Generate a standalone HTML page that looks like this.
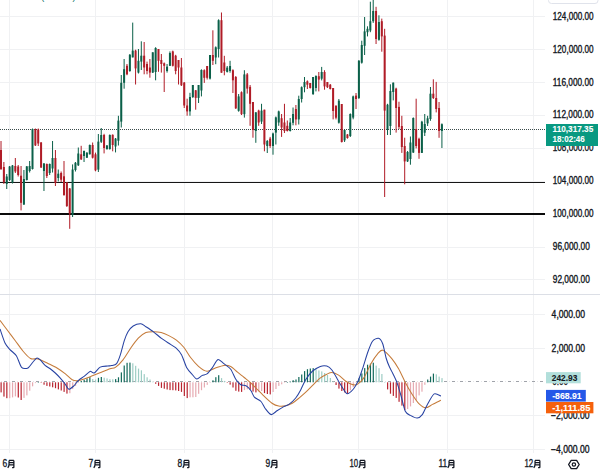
<!DOCTYPE html><html><head><meta charset="utf-8"><style>html,body{margin:0;padding:0;background:#fff;overflow:hidden}svg{display:block}text{font-family:"Liberation Sans",sans-serif}</style></head><body>
<svg width="600" height="472" viewBox="0 0 600 472">
<rect width="600" height="472" fill="#fff"/>
<line x1="9.5" y1="0" x2="9.5" y2="294" stroke="#f0f1f3" stroke-width="1"/>
<line x1="9.5" y1="295" x2="9.5" y2="453" stroke="#f0f1f3" stroke-width="1"/>
<line x1="95.5" y1="0" x2="95.5" y2="294" stroke="#f0f1f3" stroke-width="1"/>
<line x1="95.5" y1="295" x2="95.5" y2="453" stroke="#f0f1f3" stroke-width="1"/>
<line x1="184.5" y1="0" x2="184.5" y2="294" stroke="#f0f1f3" stroke-width="1"/>
<line x1="184.5" y1="295" x2="184.5" y2="453" stroke="#f0f1f3" stroke-width="1"/>
<line x1="272.5" y1="0" x2="272.5" y2="294" stroke="#f0f1f3" stroke-width="1"/>
<line x1="272.5" y1="295" x2="272.5" y2="453" stroke="#f0f1f3" stroke-width="1"/>
<line x1="358.5" y1="0" x2="358.5" y2="294" stroke="#f0f1f3" stroke-width="1"/>
<line x1="358.5" y1="295" x2="358.5" y2="453" stroke="#f0f1f3" stroke-width="1"/>
<line x1="447.5" y1="0" x2="447.5" y2="294" stroke="#f0f1f3" stroke-width="1"/>
<line x1="447.5" y1="295" x2="447.5" y2="453" stroke="#f0f1f3" stroke-width="1"/>
<line x1="533.5" y1="0" x2="533.5" y2="294" stroke="#f0f1f3" stroke-width="1"/>
<line x1="533.5" y1="295" x2="533.5" y2="453" stroke="#f0f1f3" stroke-width="1"/>
<line x1="0" y1="16.5" x2="545" y2="16.5" stroke="#f0f1f3" stroke-width="1"/>
<line x1="0" y1="49.5" x2="545" y2="49.5" stroke="#f0f1f3" stroke-width="1"/>
<line x1="0" y1="82.5" x2="545" y2="82.5" stroke="#f0f1f3" stroke-width="1"/>
<line x1="0" y1="115.5" x2="545" y2="115.5" stroke="#f0f1f3" stroke-width="1"/>
<line x1="0" y1="148.5" x2="545" y2="148.5" stroke="#f0f1f3" stroke-width="1"/>
<line x1="0" y1="181.5" x2="545" y2="181.5" stroke="#f0f1f3" stroke-width="1"/>
<line x1="0" y1="214.5" x2="545" y2="214.5" stroke="#f0f1f3" stroke-width="1"/>
<line x1="0" y1="247.5" x2="545" y2="247.5" stroke="#f0f1f3" stroke-width="1"/>
<line x1="0" y1="279.5" x2="545" y2="279.5" stroke="#f0f1f3" stroke-width="1"/>
<line x1="0" y1="314.5" x2="545" y2="314.5" stroke="#f0f1f3" stroke-width="1"/>
<line x1="0" y1="348.5" x2="545" y2="348.5" stroke="#f0f1f3" stroke-width="1"/>
<line x1="0" y1="415.5" x2="545" y2="415.5" stroke="#f0f1f3" stroke-width="1"/>
<line x1="0" y1="449.5" x2="545" y2="449.5" stroke="#f0f1f3" stroke-width="1"/>
<line x1="0" y1="294.5" x2="600" y2="294.5" stroke="#dcdfe6" stroke-width="1"/>
<rect x="548.5" y="-4" width="49.5" height="7.5" rx="3" fill="#fff" stroke="#e0e3eb" stroke-width="1"/>
<text x="41.2" y="0.2" font-size="9" fill="#00695a">(</text><text x="72.6" y="0.2" font-size="9" fill="#00695a">)</text>
<line x1="0" y1="129.5" x2="545" y2="129.5" stroke="#3a4a4a" stroke-width="1" stroke-dasharray="1 1"/>
<line x1="0" y1="182.5" x2="545" y2="182.5" stroke="#161616" stroke-width="1.1"/>
<line x1="0" y1="214" x2="545" y2="214" stroke="#0a0a0a" stroke-width="2.2"/>
<rect x="0.51" y="141.0" width="1" height="29.0" fill="#b01c27"/>
<rect x="0.01" y="150.0" width="2" height="19.0" fill="#b01c27"/>
<rect x="3.37" y="162.0" width="1" height="22.0" fill="#b01c27"/>
<rect x="2.87" y="167.0" width="2" height="15.0" fill="#b01c27"/>
<rect x="6.24" y="174.0" width="1" height="15.0" fill="#0b6049"/>
<rect x="5.74" y="176.5" width="2" height="7.5" fill="#0b6049"/>
<rect x="9.10" y="166.0" width="1" height="15.0" fill="#0b6049"/>
<rect x="8.60" y="166.5" width="2" height="13.5" fill="#0b6049"/>
<rect x="11.96" y="165.0" width="1" height="18.5" fill="#0b6049"/>
<rect x="11.46" y="165.5" width="2" height="17.0" fill="#0b6049"/>
<rect x="14.83" y="158.0" width="1" height="15.0" fill="#b01c27"/>
<rect x="14.33" y="166.0" width="2" height="5.5" fill="#b01c27"/>
<rect x="17.69" y="165.0" width="1" height="11.5" fill="#b01c27"/>
<rect x="17.19" y="166.5" width="2" height="8.5" fill="#b01c27"/>
<rect x="20.55" y="166.0" width="1" height="44.4" fill="#b01c27"/>
<rect x="20.05" y="175.7" width="2" height="27.1" fill="#b01c27"/>
<rect x="23.41" y="170.0" width="1" height="35.0" fill="#0b6049"/>
<rect x="22.91" y="179.0" width="2" height="25.5" fill="#0b6049"/>
<rect x="26.28" y="166.0" width="1" height="14.5" fill="#0b6049"/>
<rect x="25.78" y="166.4" width="2" height="13.6" fill="#0b6049"/>
<rect x="29.14" y="161.0" width="1" height="11.5" fill="#0b6049"/>
<rect x="28.64" y="166.0" width="2" height="5.0" fill="#0b6049"/>
<rect x="32.00" y="128.5" width="1" height="41.0" fill="#0b6049"/>
<rect x="31.50" y="129.0" width="2" height="40.0" fill="#0b6049"/>
<rect x="34.87" y="128.5" width="1" height="17.5" fill="#b01c27"/>
<rect x="34.37" y="129.0" width="2" height="16.4" fill="#b01c27"/>
<rect x="37.73" y="128.5" width="1" height="17.5" fill="#b01c27"/>
<rect x="37.23" y="129.5" width="2" height="14.0" fill="#b01c27"/>
<rect x="40.59" y="142.0" width="1" height="26.0" fill="#b01c27"/>
<rect x="40.09" y="142.5" width="2" height="25.0" fill="#b01c27"/>
<rect x="43.46" y="163.0" width="1" height="28.0" fill="#0b6049"/>
<rect x="42.96" y="163.5" width="2" height="7.5" fill="#0b6049"/>
<rect x="46.32" y="163.5" width="1" height="14.5" fill="#b01c27"/>
<rect x="45.82" y="164.0" width="2" height="12.0" fill="#b01c27"/>
<rect x="49.18" y="163.5" width="1" height="11.5" fill="#0b6049"/>
<rect x="48.68" y="164.0" width="2" height="9.0" fill="#0b6049"/>
<rect x="52.05" y="141.0" width="1" height="31.5" fill="#0b6049"/>
<rect x="51.55" y="158.0" width="2" height="10.5" fill="#0b6049"/>
<rect x="54.91" y="150.0" width="1" height="36.0" fill="#b01c27"/>
<rect x="54.41" y="158.0" width="2" height="25.0" fill="#b01c27"/>
<rect x="57.77" y="169.5" width="1" height="11.9" fill="#0b6049"/>
<rect x="57.27" y="173.7" width="2" height="4.3" fill="#0b6049"/>
<rect x="60.63" y="171.5" width="1" height="10.5" fill="#b01c27"/>
<rect x="60.13" y="173.0" width="2" height="6.7" fill="#b01c27"/>
<rect x="63.50" y="161.0" width="1" height="34.8" fill="#b01c27"/>
<rect x="63.00" y="176.3" width="2" height="18.7" fill="#b01c27"/>
<rect x="66.36" y="182.0" width="1" height="25.0" fill="#b01c27"/>
<rect x="65.86" y="182.5" width="2" height="23.5" fill="#b01c27"/>
<rect x="69.22" y="188.0" width="1" height="40.8" fill="#b01c27"/>
<rect x="68.72" y="188.5" width="2" height="25.1" fill="#b01c27"/>
<rect x="72.09" y="164.4" width="1" height="52.6" fill="#0b6049"/>
<rect x="71.59" y="169.5" width="2" height="45.5" fill="#0b6049"/>
<rect x="74.95" y="162.0" width="1" height="9.5" fill="#0b6049"/>
<rect x="74.45" y="162.8" width="2" height="7.2" fill="#0b6049"/>
<rect x="77.81" y="147.5" width="1" height="18.5" fill="#0b6049"/>
<rect x="77.31" y="153.5" width="2" height="11.8" fill="#0b6049"/>
<rect x="80.67" y="145.8" width="1" height="14.2" fill="#b01c27"/>
<rect x="80.17" y="154.3" width="2" height="5.1" fill="#b01c27"/>
<rect x="83.54" y="150.5" width="1" height="11.5" fill="#0b6049"/>
<rect x="83.04" y="151.0" width="2" height="5.0" fill="#0b6049"/>
<rect x="86.40" y="152.0" width="1" height="6.0" fill="#0b6049"/>
<rect x="85.90" y="152.8" width="2" height="4.9" fill="#0b6049"/>
<rect x="89.26" y="144.5" width="1" height="10.0" fill="#0b6049"/>
<rect x="88.76" y="145.0" width="2" height="9.3" fill="#0b6049"/>
<rect x="92.13" y="142.5" width="1" height="16.0" fill="#b01c27"/>
<rect x="91.63" y="145.0" width="2" height="12.7" fill="#b01c27"/>
<rect x="94.99" y="152.6" width="1" height="18.7" fill="#b01c27"/>
<rect x="94.49" y="154.3" width="2" height="16.1" fill="#b01c27"/>
<rect x="97.85" y="134.0" width="1" height="38.0" fill="#0b6049"/>
<rect x="97.35" y="141.6" width="2" height="28.0" fill="#0b6049"/>
<rect x="100.72" y="128.0" width="1" height="15.0" fill="#0b6049"/>
<rect x="100.22" y="135.0" width="2" height="6.8" fill="#0b6049"/>
<rect x="103.58" y="133.8" width="1" height="19.6" fill="#b01c27"/>
<rect x="103.08" y="135.0" width="2" height="13.0" fill="#b01c27"/>
<rect x="106.44" y="145.0" width="1" height="4.5" fill="#0b6049"/>
<rect x="105.94" y="145.5" width="2" height="3.7" fill="#0b6049"/>
<rect x="109.30" y="134.4" width="1" height="15.3" fill="#0b6049"/>
<rect x="108.80" y="135.0" width="2" height="14.0" fill="#0b6049"/>
<rect x="112.17" y="134.4" width="1" height="16.9" fill="#b01c27"/>
<rect x="111.67" y="134.8" width="2" height="10.2" fill="#b01c27"/>
<rect x="115.03" y="138.0" width="1" height="14.4" fill="#0b6049"/>
<rect x="114.53" y="138.6" width="2" height="7.9" fill="#0b6049"/>
<rect x="117.89" y="115.8" width="1" height="29.7" fill="#0b6049"/>
<rect x="117.39" y="120.6" width="2" height="20.1" fill="#0b6049"/>
<rect x="120.76" y="75.0" width="1" height="52.5" fill="#0b6049"/>
<rect x="120.26" y="82.8" width="2" height="38.8" fill="#0b6049"/>
<rect x="123.62" y="59.0" width="1" height="29.7" fill="#0b6049"/>
<rect x="123.12" y="69.2" width="2" height="13.6" fill="#0b6049"/>
<rect x="126.48" y="64.0" width="1" height="11.2" fill="#b01c27"/>
<rect x="125.98" y="65.8" width="2" height="8.5" fill="#b01c27"/>
<rect x="129.35" y="54.0" width="1" height="17.8" fill="#0b6049"/>
<rect x="128.85" y="54.8" width="2" height="16.2" fill="#0b6049"/>
<rect x="132.21" y="22.6" width="1" height="34.8" fill="#0b6049"/>
<rect x="131.71" y="50.6" width="2" height="6.8" fill="#0b6049"/>
<rect x="135.07" y="49.7" width="1" height="34.8" fill="#b01c27"/>
<rect x="134.57" y="50.6" width="2" height="17.8" fill="#b01c27"/>
<rect x="137.94" y="49.0" width="1" height="24.5" fill="#0b6049"/>
<rect x="137.44" y="60.8" width="2" height="11.8" fill="#0b6049"/>
<rect x="140.80" y="41.3" width="1" height="28.7" fill="#0b6049"/>
<rect x="140.30" y="55.7" width="2" height="5.9" fill="#0b6049"/>
<rect x="143.66" y="42.0" width="1" height="32.3" fill="#b01c27"/>
<rect x="143.16" y="55.7" width="2" height="11.8" fill="#b01c27"/>
<rect x="146.52" y="61.6" width="1" height="12.7" fill="#b01c27"/>
<rect x="146.02" y="64.0" width="2" height="7.0" fill="#b01c27"/>
<rect x="149.39" y="59.0" width="1" height="18.7" fill="#b01c27"/>
<rect x="148.89" y="67.5" width="2" height="5.1" fill="#b01c27"/>
<rect x="152.25" y="52.3" width="1" height="20.7" fill="#0b6049"/>
<rect x="151.75" y="52.3" width="2" height="20.3" fill="#0b6049"/>
<rect x="155.11" y="47.2" width="1" height="33.1" fill="#0b6049"/>
<rect x="154.61" y="48.0" width="2" height="24.0" fill="#0b6049"/>
<rect x="157.98" y="49.0" width="1" height="22.8" fill="#b01c27"/>
<rect x="157.48" y="49.0" width="2" height="11.8" fill="#b01c27"/>
<rect x="160.84" y="54.0" width="1" height="18.6" fill="#b01c27"/>
<rect x="160.34" y="60.0" width="2" height="4.0" fill="#b01c27"/>
<rect x="163.70" y="62.5" width="1" height="29.5" fill="#b01c27"/>
<rect x="163.20" y="63.3" width="2" height="2.5" fill="#b01c27"/>
<rect x="166.56" y="64.0" width="1" height="8.6" fill="#0b6049"/>
<rect x="166.06" y="66.7" width="2" height="4.3" fill="#0b6049"/>
<rect x="169.43" y="51.4" width="1" height="14.6" fill="#0b6049"/>
<rect x="168.93" y="53.0" width="2" height="12.8" fill="#0b6049"/>
<rect x="172.29" y="50.6" width="1" height="15.9" fill="#b01c27"/>
<rect x="171.79" y="51.4" width="2" height="14.4" fill="#b01c27"/>
<rect x="175.15" y="54.8" width="1" height="19.5" fill="#b01c27"/>
<rect x="174.65" y="55.7" width="2" height="15.3" fill="#b01c27"/>
<rect x="178.02" y="60.0" width="1" height="24.5" fill="#b01c27"/>
<rect x="177.52" y="60.0" width="2" height="7.5" fill="#b01c27"/>
<rect x="180.88" y="58.0" width="1" height="28.0" fill="#b01c27"/>
<rect x="180.38" y="67.5" width="2" height="17.8" fill="#b01c27"/>
<rect x="183.74" y="82.0" width="1" height="26.0" fill="#b01c27"/>
<rect x="183.24" y="82.6" width="2" height="22.9" fill="#b01c27"/>
<rect x="186.61" y="98.7" width="1" height="17.0" fill="#b01c27"/>
<rect x="186.11" y="105.5" width="2" height="5.9" fill="#b01c27"/>
<rect x="189.47" y="92.8" width="1" height="22.9" fill="#0b6049"/>
<rect x="188.97" y="97.0" width="2" height="14.4" fill="#0b6049"/>
<rect x="192.33" y="85.0" width="1" height="13.0" fill="#0b6049"/>
<rect x="191.83" y="85.0" width="2" height="12.0" fill="#0b6049"/>
<rect x="195.19" y="90.0" width="1" height="19.7" fill="#b01c27"/>
<rect x="194.69" y="90.3" width="2" height="7.6" fill="#b01c27"/>
<rect x="198.06" y="85.0" width="1" height="18.0" fill="#0b6049"/>
<rect x="197.56" y="85.0" width="2" height="12.9" fill="#0b6049"/>
<rect x="200.92" y="69.3" width="1" height="27.1" fill="#0b6049"/>
<rect x="200.42" y="70.0" width="2" height="20.5" fill="#0b6049"/>
<rect x="203.78" y="69.3" width="1" height="13.6" fill="#b01c27"/>
<rect x="203.28" y="70.2" width="2" height="7.6" fill="#b01c27"/>
<rect x="206.65" y="66.0" width="1" height="13.5" fill="#b01c27"/>
<rect x="206.15" y="66.0" width="2" height="11.8" fill="#b01c27"/>
<rect x="209.51" y="55.0" width="1" height="24.5" fill="#0b6049"/>
<rect x="209.01" y="55.0" width="2" height="23.6" fill="#0b6049"/>
<rect x="212.37" y="30.3" width="1" height="34.7" fill="#b01c27"/>
<rect x="211.87" y="55.0" width="2" height="5.8" fill="#b01c27"/>
<rect x="215.24" y="46.4" width="1" height="17.8" fill="#0b6049"/>
<rect x="214.74" y="47.3" width="2" height="10.2" fill="#0b6049"/>
<rect x="218.10" y="19.3" width="1" height="38.2" fill="#0b6049"/>
<rect x="217.60" y="20.2" width="2" height="28.8" fill="#0b6049"/>
<rect x="220.96" y="12.5" width="1" height="60.2" fill="#b01c27"/>
<rect x="220.46" y="20.2" width="2" height="52.5" fill="#b01c27"/>
<rect x="223.82" y="55.8" width="1" height="19.5" fill="#b01c27"/>
<rect x="223.32" y="62.5" width="2" height="8.5" fill="#b01c27"/>
<rect x="226.69" y="66.0" width="1" height="6.5" fill="#0b6049"/>
<rect x="226.19" y="67.6" width="2" height="4.3" fill="#0b6049"/>
<rect x="229.55" y="60.8" width="1" height="11.9" fill="#0b6049"/>
<rect x="229.05" y="66.0" width="2" height="5.0" fill="#0b6049"/>
<rect x="232.41" y="69.3" width="1" height="23.7" fill="#b01c27"/>
<rect x="231.91" y="70.2" width="2" height="10.1" fill="#b01c27"/>
<rect x="235.28" y="76.0" width="1" height="33.0" fill="#b01c27"/>
<rect x="234.78" y="77.0" width="2" height="31.3" fill="#b01c27"/>
<rect x="238.14" y="94.0" width="1" height="17.7" fill="#0b6049"/>
<rect x="237.64" y="96.4" width="2" height="14.4" fill="#0b6049"/>
<rect x="241.00" y="91.4" width="1" height="23.6" fill="#b01c27"/>
<rect x="240.50" y="92.2" width="2" height="22.0" fill="#b01c27"/>
<rect x="243.87" y="70.2" width="1" height="47.4" fill="#0b6049"/>
<rect x="243.37" y="74.4" width="2" height="39.8" fill="#0b6049"/>
<rect x="246.73" y="73.0" width="1" height="20.6" fill="#b01c27"/>
<rect x="246.23" y="74.4" width="2" height="14.2" fill="#b01c27"/>
<rect x="249.59" y="85.0" width="1" height="40.8" fill="#b01c27"/>
<rect x="249.09" y="86.9" width="2" height="16.9" fill="#b01c27"/>
<rect x="252.45" y="102.0" width="1" height="35.7" fill="#b01c27"/>
<rect x="251.95" y="102.0" width="2" height="28.0" fill="#b01c27"/>
<rect x="255.32" y="112.3" width="1" height="30.5" fill="#0b6049"/>
<rect x="254.82" y="112.3" width="2" height="18.7" fill="#0b6049"/>
<rect x="258.18" y="109.7" width="1" height="16.1" fill="#b01c27"/>
<rect x="257.68" y="110.6" width="2" height="11.9" fill="#b01c27"/>
<rect x="261.04" y="103.8" width="1" height="20.2" fill="#0b6049"/>
<rect x="260.54" y="110.6" width="2" height="11.0" fill="#0b6049"/>
<rect x="263.91" y="109.7" width="1" height="41.6" fill="#b01c27"/>
<rect x="263.41" y="109.7" width="2" height="34.8" fill="#b01c27"/>
<rect x="266.77" y="140.0" width="1" height="13.0" fill="#0b6049"/>
<rect x="266.27" y="141.0" width="2" height="5.0" fill="#0b6049"/>
<rect x="269.63" y="136.9" width="1" height="11.0" fill="#b01c27"/>
<rect x="269.13" y="138.6" width="2" height="7.4" fill="#b01c27"/>
<rect x="272.50" y="132.6" width="1" height="22.1" fill="#0b6049"/>
<rect x="272.00" y="133.5" width="2" height="12.5" fill="#0b6049"/>
<rect x="275.36" y="116.5" width="1" height="28.0" fill="#0b6049"/>
<rect x="274.86" y="117.4" width="2" height="15.2" fill="#0b6049"/>
<rect x="278.22" y="110.6" width="1" height="15.2" fill="#0b6049"/>
<rect x="277.72" y="111.4" width="2" height="11.1" fill="#0b6049"/>
<rect x="281.09" y="114.0" width="1" height="22.9" fill="#b01c27"/>
<rect x="280.59" y="118.2" width="2" height="9.3" fill="#b01c27"/>
<rect x="283.95" y="103.8" width="1" height="29.2" fill="#b01c27"/>
<rect x="283.45" y="122.5" width="2" height="8.5" fill="#b01c27"/>
<rect x="286.81" y="120.5" width="1" height="11.0" fill="#b01c27"/>
<rect x="286.31" y="125.8" width="2" height="5.2" fill="#b01c27"/>
<rect x="289.67" y="118.0" width="1" height="13.5" fill="#0b6049"/>
<rect x="289.17" y="122.5" width="2" height="8.5" fill="#0b6049"/>
<rect x="292.54" y="107.5" width="1" height="17.8" fill="#0b6049"/>
<rect x="292.04" y="114.0" width="2" height="8.8" fill="#0b6049"/>
<rect x="295.40" y="105.0" width="1" height="20.3" fill="#b01c27"/>
<rect x="294.90" y="109.0" width="2" height="10.4" fill="#b01c27"/>
<rect x="298.26" y="95.7" width="1" height="28.8" fill="#0b6049"/>
<rect x="297.76" y="99.0" width="2" height="20.4" fill="#0b6049"/>
<rect x="301.13" y="86.4" width="1" height="16.1" fill="#0b6049"/>
<rect x="300.63" y="87.2" width="2" height="11.8" fill="#0b6049"/>
<rect x="303.99" y="77.0" width="1" height="15.3" fill="#0b6049"/>
<rect x="303.49" y="82.0" width="2" height="5.2" fill="#0b6049"/>
<rect x="306.85" y="80.4" width="1" height="8.6" fill="#b01c27"/>
<rect x="306.35" y="81.3" width="2" height="3.4" fill="#b01c27"/>
<rect x="309.72" y="83.0" width="1" height="5.5" fill="#b01c27"/>
<rect x="309.22" y="83.0" width="2" height="5.0" fill="#b01c27"/>
<rect x="312.58" y="77.0" width="1" height="18.0" fill="#0b6049"/>
<rect x="312.08" y="77.0" width="2" height="17.0" fill="#0b6049"/>
<rect x="315.44" y="75.3" width="1" height="16.1" fill="#0b6049"/>
<rect x="314.94" y="76.0" width="2" height="12.0" fill="#0b6049"/>
<rect x="318.30" y="72.0" width="1" height="19.4" fill="#b01c27"/>
<rect x="317.80" y="76.2" width="2" height="3.4" fill="#b01c27"/>
<rect x="321.17" y="66.9" width="1" height="13.5" fill="#0b6049"/>
<rect x="320.67" y="72.0" width="2" height="6.7" fill="#0b6049"/>
<rect x="324.03" y="70.2" width="1" height="19.5" fill="#b01c27"/>
<rect x="323.53" y="72.0" width="2" height="14.4" fill="#b01c27"/>
<rect x="326.89" y="82.0" width="1" height="6.0" fill="#b01c27"/>
<rect x="326.39" y="82.0" width="2" height="5.2" fill="#b01c27"/>
<rect x="329.76" y="84.0" width="1" height="5.5" fill="#b01c27"/>
<rect x="329.26" y="84.7" width="2" height="4.3" fill="#b01c27"/>
<rect x="332.62" y="88.0" width="1" height="31.4" fill="#b01c27"/>
<rect x="332.12" y="88.0" width="2" height="23.0" fill="#b01c27"/>
<rect x="335.48" y="105.0" width="1" height="14.4" fill="#b01c27"/>
<rect x="334.98" y="106.0" width="2" height="11.7" fill="#b01c27"/>
<rect x="338.35" y="99.0" width="1" height="24.6" fill="#0b6049"/>
<rect x="337.85" y="100.7" width="2" height="22.0" fill="#0b6049"/>
<rect x="341.21" y="104.0" width="1" height="38.5" fill="#b01c27"/>
<rect x="340.71" y="104.0" width="2" height="38.0" fill="#b01c27"/>
<rect x="344.07" y="130.0" width="1" height="12.0" fill="#0b6049"/>
<rect x="343.57" y="130.0" width="2" height="10.4" fill="#0b6049"/>
<rect x="346.93" y="134.0" width="1" height="4.7" fill="#b01c27"/>
<rect x="346.43" y="134.5" width="2" height="3.5" fill="#b01c27"/>
<rect x="349.80" y="113.4" width="1" height="23.6" fill="#0b6049"/>
<rect x="349.30" y="114.0" width="2" height="22.0" fill="#0b6049"/>
<rect x="352.66" y="95.6" width="1" height="23.7" fill="#0b6049"/>
<rect x="352.16" y="96.4" width="2" height="21.2" fill="#0b6049"/>
<rect x="355.52" y="93.0" width="1" height="16.0" fill="#b01c27"/>
<rect x="355.02" y="95.6" width="2" height="3.4" fill="#b01c27"/>
<rect x="358.39" y="60.0" width="1" height="39.0" fill="#0b6049"/>
<rect x="357.89" y="60.8" width="2" height="37.2" fill="#0b6049"/>
<rect x="361.25" y="40.7" width="1" height="22.9" fill="#0b6049"/>
<rect x="360.75" y="45.0" width="2" height="17.7" fill="#0b6049"/>
<rect x="364.11" y="17.0" width="1" height="38.0" fill="#0b6049"/>
<rect x="363.61" y="31.4" width="2" height="14.4" fill="#0b6049"/>
<rect x="366.98" y="26.3" width="1" height="10.1" fill="#0b6049"/>
<rect x="366.48" y="28.8" width="2" height="3.4" fill="#0b6049"/>
<rect x="369.84" y="1.7" width="1" height="30.5" fill="#0b6049"/>
<rect x="369.34" y="21.2" width="2" height="9.3" fill="#0b6049"/>
<rect x="372.70" y="0.0" width="1" height="22.9" fill="#0b6049"/>
<rect x="372.20" y="11.0" width="2" height="10.2" fill="#0b6049"/>
<rect x="375.56" y="6.8" width="1" height="37.2" fill="#b01c27"/>
<rect x="375.06" y="11.0" width="2" height="28.0" fill="#b01c27"/>
<rect x="378.43" y="15.3" width="1" height="25.4" fill="#0b6049"/>
<rect x="377.93" y="22.0" width="2" height="17.8" fill="#0b6049"/>
<rect x="381.29" y="18.6" width="1" height="33.1" fill="#b01c27"/>
<rect x="380.79" y="21.2" width="2" height="15.2" fill="#b01c27"/>
<rect x="384.15" y="28.8" width="1" height="168.2" fill="#b01c27"/>
<rect x="383.65" y="35.6" width="2" height="75.0" fill="#b01c27"/>
<rect x="387.02" y="103.8" width="1" height="31.2" fill="#0b6049"/>
<rect x="386.52" y="104.7" width="2" height="24.3" fill="#0b6049"/>
<rect x="389.88" y="84.3" width="1" height="50.7" fill="#0b6049"/>
<rect x="389.38" y="91.0" width="2" height="35.0" fill="#0b6049"/>
<rect x="392.74" y="82.6" width="1" height="17.8" fill="#0b6049"/>
<rect x="392.24" y="82.6" width="2" height="9.4" fill="#0b6049"/>
<rect x="395.61" y="87.7" width="1" height="44.9" fill="#b01c27"/>
<rect x="395.11" y="88.6" width="2" height="19.4" fill="#b01c27"/>
<rect x="398.47" y="101.7" width="1" height="27.3" fill="#b01c27"/>
<rect x="397.97" y="106.9" width="2" height="20.0" fill="#b01c27"/>
<rect x="401.33" y="115.8" width="1" height="37.1" fill="#b01c27"/>
<rect x="400.83" y="126.0" width="2" height="21.0" fill="#b01c27"/>
<rect x="404.19" y="137.7" width="1" height="46.6" fill="#b01c27"/>
<rect x="403.69" y="146.0" width="2" height="15.4" fill="#b01c27"/>
<rect x="407.06" y="151.0" width="1" height="11.0" fill="#0b6049"/>
<rect x="406.56" y="152.0" width="2" height="9.4" fill="#0b6049"/>
<rect x="409.92" y="136.5" width="1" height="28.2" fill="#0b6049"/>
<rect x="409.42" y="142.5" width="2" height="16.5" fill="#0b6049"/>
<rect x="412.78" y="117.4" width="1" height="35.6" fill="#0b6049"/>
<rect x="412.28" y="118.0" width="2" height="34.5" fill="#0b6049"/>
<rect x="415.65" y="98.7" width="1" height="49.7" fill="#b01c27"/>
<rect x="415.15" y="129.0" width="2" height="17.0" fill="#b01c27"/>
<rect x="418.51" y="137.7" width="1" height="21.1" fill="#b01c27"/>
<rect x="418.01" y="138.8" width="2" height="14.1" fill="#b01c27"/>
<rect x="421.37" y="120.8" width="1" height="32.2" fill="#0b6049"/>
<rect x="420.87" y="121.7" width="2" height="31.2" fill="#0b6049"/>
<rect x="424.24" y="114.0" width="1" height="22.0" fill="#0b6049"/>
<rect x="423.74" y="124.0" width="2" height="8.7" fill="#0b6049"/>
<rect x="427.10" y="115.8" width="1" height="10.2" fill="#0b6049"/>
<rect x="426.60" y="118.3" width="2" height="5.1" fill="#0b6049"/>
<rect x="429.96" y="87.0" width="1" height="33.8" fill="#0b6049"/>
<rect x="429.46" y="93.7" width="2" height="25.3" fill="#0b6049"/>
<rect x="432.82" y="79.3" width="1" height="19.7" fill="#b01c27"/>
<rect x="432.32" y="93.7" width="2" height="4.3" fill="#b01c27"/>
<rect x="435.69" y="81.9" width="1" height="30.5" fill="#b01c27"/>
<rect x="435.19" y="98.0" width="2" height="11.0" fill="#b01c27"/>
<rect x="438.55" y="102.0" width="1" height="35.8" fill="#b01c27"/>
<rect x="438.05" y="108.0" width="2" height="23.0" fill="#b01c27"/>
<rect x="441.41" y="123.4" width="1" height="24.6" fill="#0b6049"/>
<rect x="440.91" y="124.2" width="2" height="6.8" fill="#0b6049"/>
<line x1="0" y1="381.5" x2="545" y2="381.5" stroke="#a0a3aa" stroke-width="1" stroke-dasharray="3 5" stroke-dashoffset="-4"/><line x1="0" y1="381.5" x2="545" y2="381.5" stroke="#e4e5e8" stroke-width="1" stroke-dasharray="1 7" stroke-dashoffset="-9"/>
<rect x="0.51" y="382.3" width="1.2" height="10.1" fill="#b8232f"/>
<rect x="3.37" y="382.3" width="1.2" height="14.3" fill="#b8232f"/>
<rect x="6.24" y="382.3" width="1.2" height="15.9" fill="#b8232f"/>
<rect x="9.10" y="382.3" width="1.2" height="15.9" fill="#e6aab1"/>
<rect x="11.96" y="382.3" width="1.2" height="15.1" fill="#e6aab1"/>
<rect x="14.83" y="382.3" width="1.2" height="14.1" fill="#e6aab1"/>
<rect x="17.69" y="382.3" width="1.2" height="15.2" fill="#b8232f"/>
<rect x="20.55" y="382.3" width="1.2" height="17.7" fill="#b8232f"/>
<rect x="23.41" y="382.3" width="1.2" height="15.6" fill="#e6aab1"/>
<rect x="26.28" y="382.3" width="1.2" height="13.1" fill="#e6aab1"/>
<rect x="29.14" y="382.3" width="1.2" height="8.4" fill="#e6aab1"/>
<rect x="32.00" y="382.3" width="1.2" height="4.0" fill="#e6aab1"/>
<rect x="34.87" y="382.3" width="1.2" height="0.8" fill="#e6aab1"/>
<rect x="37.73" y="382.0" width="1.2" height="0.5" fill="#11695a"/>
<rect x="40.59" y="382.3" width="1.2" height="0.5" fill="#b8232f"/>
<rect x="43.46" y="382.3" width="1.2" height="2.4" fill="#b8232f"/>
<rect x="46.32" y="382.3" width="1.2" height="3.6" fill="#b8232f"/>
<rect x="49.18" y="382.3" width="1.2" height="4.2" fill="#b8232f"/>
<rect x="52.05" y="382.3" width="1.2" height="5.0" fill="#b8232f"/>
<rect x="54.91" y="382.3" width="1.2" height="5.9" fill="#b8232f"/>
<rect x="57.77" y="382.3" width="1.2" height="7.1" fill="#b8232f"/>
<rect x="60.63" y="382.3" width="1.2" height="8.2" fill="#b8232f"/>
<rect x="63.50" y="382.3" width="1.2" height="9.6" fill="#b8232f"/>
<rect x="66.36" y="382.3" width="1.2" height="11.3" fill="#b8232f"/>
<rect x="69.22" y="382.3" width="1.2" height="10.9" fill="#e6aab1"/>
<rect x="72.09" y="382.3" width="1.2" height="6.8" fill="#e6aab1"/>
<rect x="74.95" y="382.3" width="1.2" height="3.6" fill="#e6aab1"/>
<rect x="77.81" y="382.3" width="1.2" height="0.5" fill="#e6aab1"/>
<rect x="80.67" y="380.9" width="1.2" height="1.4" fill="#11695a"/>
<rect x="83.54" y="379.7" width="1.2" height="2.6" fill="#11695a"/>
<rect x="86.40" y="378.4" width="1.2" height="3.9" fill="#11695a"/>
<rect x="89.26" y="377.1" width="1.2" height="5.2" fill="#11695a"/>
<rect x="92.13" y="379.0" width="1.2" height="3.3" fill="#9dcdc4"/>
<rect x="94.99" y="379.5" width="1.2" height="2.8" fill="#9dcdc4"/>
<rect x="97.85" y="377.8" width="1.2" height="4.5" fill="#11695a"/>
<rect x="100.72" y="377.0" width="1.2" height="5.3" fill="#11695a"/>
<rect x="103.58" y="377.7" width="1.2" height="4.6" fill="#9dcdc4"/>
<rect x="106.44" y="378.4" width="1.2" height="3.9" fill="#9dcdc4"/>
<rect x="109.30" y="379.2" width="1.2" height="3.1" fill="#9dcdc4"/>
<rect x="112.17" y="379.3" width="1.2" height="3.0" fill="#9dcdc4"/>
<rect x="115.03" y="379.1" width="1.2" height="3.2" fill="#11695a"/>
<rect x="117.89" y="377.3" width="1.2" height="5.0" fill="#11695a"/>
<rect x="120.76" y="372.4" width="1.2" height="9.9" fill="#11695a"/>
<rect x="123.62" y="365.5" width="1.2" height="16.8" fill="#11695a"/>
<rect x="126.48" y="362.8" width="1.2" height="19.5" fill="#11695a"/>
<rect x="129.35" y="362.6" width="1.2" height="19.7" fill="#11695a"/>
<rect x="132.21" y="363.3" width="1.2" height="19.0" fill="#9dcdc4"/>
<rect x="135.07" y="365.8" width="1.2" height="16.5" fill="#9dcdc4"/>
<rect x="137.94" y="368.6" width="1.2" height="13.7" fill="#9dcdc4"/>
<rect x="140.80" y="370.3" width="1.2" height="12.0" fill="#9dcdc4"/>
<rect x="143.66" y="374.1" width="1.2" height="8.2" fill="#9dcdc4"/>
<rect x="146.52" y="377.3" width="1.2" height="5.0" fill="#9dcdc4"/>
<rect x="149.39" y="379.5" width="1.2" height="2.8" fill="#9dcdc4"/>
<rect x="152.25" y="381.7" width="1.2" height="0.6" fill="#9dcdc4"/>
<rect x="155.11" y="382.3" width="1.2" height="1.5" fill="#b8232f"/>
<rect x="157.98" y="382.3" width="1.2" height="3.6" fill="#b8232f"/>
<rect x="160.84" y="382.3" width="1.2" height="5.6" fill="#b8232f"/>
<rect x="163.70" y="382.3" width="1.2" height="6.4" fill="#b8232f"/>
<rect x="166.56" y="382.3" width="1.2" height="7.2" fill="#b8232f"/>
<rect x="169.43" y="382.3" width="1.2" height="7.8" fill="#b8232f"/>
<rect x="172.29" y="382.3" width="1.2" height="7.9" fill="#b8232f"/>
<rect x="175.15" y="382.3" width="1.2" height="8.1" fill="#b8232f"/>
<rect x="178.02" y="382.3" width="1.2" height="8.7" fill="#b8232f"/>
<rect x="180.88" y="382.3" width="1.2" height="9.6" fill="#b8232f"/>
<rect x="183.74" y="382.3" width="1.2" height="13.7" fill="#b8232f"/>
<rect x="186.61" y="382.3" width="1.2" height="15.8" fill="#b8232f"/>
<rect x="189.47" y="382.3" width="1.2" height="15.0" fill="#e6aab1"/>
<rect x="192.33" y="382.3" width="1.2" height="15.0" fill="#e6aab1"/>
<rect x="195.19" y="382.3" width="1.2" height="14.7" fill="#e6aab1"/>
<rect x="198.06" y="382.3" width="1.2" height="11.5" fill="#e6aab1"/>
<rect x="200.92" y="382.3" width="1.2" height="7.9" fill="#e6aab1"/>
<rect x="203.78" y="382.3" width="1.2" height="5.2" fill="#e6aab1"/>
<rect x="206.65" y="382.3" width="1.2" height="2.6" fill="#e6aab1"/>
<rect x="209.51" y="382.3" width="1.2" height="0.5" fill="#e6aab1"/>
<rect x="212.37" y="380.3" width="1.2" height="2.0" fill="#11695a"/>
<rect x="215.24" y="377.2" width="1.2" height="5.1" fill="#11695a"/>
<rect x="218.10" y="375.2" width="1.2" height="7.1" fill="#11695a"/>
<rect x="220.96" y="378.1" width="1.2" height="4.2" fill="#9dcdc4"/>
<rect x="223.82" y="380.9" width="1.2" height="1.4" fill="#9dcdc4"/>
<rect x="226.69" y="382.3" width="1.2" height="0.5" fill="#b8232f"/>
<rect x="229.55" y="382.3" width="1.2" height="2.3" fill="#b8232f"/>
<rect x="232.41" y="382.3" width="1.2" height="5.2" fill="#b8232f"/>
<rect x="235.28" y="382.3" width="1.2" height="8.5" fill="#b8232f"/>
<rect x="238.14" y="382.3" width="1.2" height="9.3" fill="#b8232f"/>
<rect x="241.00" y="382.3" width="1.2" height="9.6" fill="#b8232f"/>
<rect x="243.87" y="382.3" width="1.2" height="7.8" fill="#e6aab1"/>
<rect x="246.73" y="382.3" width="1.2" height="7.0" fill="#e6aab1"/>
<rect x="249.59" y="382.3" width="1.2" height="7.5" fill="#b8232f"/>
<rect x="252.45" y="382.3" width="1.2" height="9.3" fill="#b8232f"/>
<rect x="255.32" y="382.3" width="1.2" height="10.1" fill="#b8232f"/>
<rect x="258.18" y="382.3" width="1.2" height="9.2" fill="#e6aab1"/>
<rect x="261.04" y="382.3" width="1.2" height="8.7" fill="#e6aab1"/>
<rect x="263.91" y="382.3" width="1.2" height="10.8" fill="#b8232f"/>
<rect x="266.77" y="382.3" width="1.2" height="11.7" fill="#b8232f"/>
<rect x="269.63" y="382.3" width="1.2" height="12.1" fill="#b8232f"/>
<rect x="272.50" y="382.3" width="1.2" height="9.7" fill="#e6aab1"/>
<rect x="275.36" y="382.3" width="1.2" height="6.7" fill="#e6aab1"/>
<rect x="278.22" y="382.3" width="1.2" height="3.6" fill="#e6aab1"/>
<rect x="281.09" y="382.3" width="1.2" height="2.0" fill="#e6aab1"/>
<rect x="283.95" y="382.3" width="1.2" height="0.5" fill="#e6aab1"/>
<rect x="286.81" y="382.3" width="1.2" height="0.5" fill="#11695a"/>
<rect x="289.67" y="381.5" width="1.2" height="0.8" fill="#11695a"/>
<rect x="292.54" y="380.2" width="1.2" height="2.1" fill="#11695a"/>
<rect x="295.40" y="379.5" width="1.2" height="2.8" fill="#11695a"/>
<rect x="298.26" y="377.0" width="1.2" height="5.3" fill="#11695a"/>
<rect x="301.13" y="374.5" width="1.2" height="7.8" fill="#11695a"/>
<rect x="303.99" y="371.1" width="1.2" height="11.2" fill="#11695a"/>
<rect x="306.85" y="369.2" width="1.2" height="13.1" fill="#11695a"/>
<rect x="309.72" y="368.5" width="1.2" height="13.8" fill="#11695a"/>
<rect x="312.58" y="368.1" width="1.2" height="14.2" fill="#11695a"/>
<rect x="315.44" y="369.2" width="1.2" height="13.1" fill="#9dcdc4"/>
<rect x="318.30" y="370.4" width="1.2" height="11.9" fill="#9dcdc4"/>
<rect x="321.17" y="371.4" width="1.2" height="10.9" fill="#9dcdc4"/>
<rect x="324.03" y="373.0" width="1.2" height="9.3" fill="#9dcdc4"/>
<rect x="326.89" y="374.9" width="1.2" height="7.4" fill="#9dcdc4"/>
<rect x="329.76" y="378.0" width="1.2" height="4.3" fill="#9dcdc4"/>
<rect x="332.62" y="381.4" width="1.2" height="0.9" fill="#9dcdc4"/>
<rect x="335.48" y="382.3" width="1.2" height="2.7" fill="#b8232f"/>
<rect x="338.35" y="382.3" width="1.2" height="6.3" fill="#b8232f"/>
<rect x="341.21" y="382.3" width="1.2" height="8.7" fill="#b8232f"/>
<rect x="344.07" y="382.3" width="1.2" height="10.1" fill="#b8232f"/>
<rect x="346.93" y="382.3" width="1.2" height="11.4" fill="#b8232f"/>
<rect x="349.80" y="382.3" width="1.2" height="8.0" fill="#e6aab1"/>
<rect x="352.66" y="382.3" width="1.2" height="4.8" fill="#e6aab1"/>
<rect x="355.52" y="382.3" width="1.2" height="0.5" fill="#e6aab1"/>
<rect x="358.39" y="378.4" width="1.2" height="3.9" fill="#11695a"/>
<rect x="361.25" y="373.4" width="1.2" height="8.9" fill="#11695a"/>
<rect x="364.11" y="368.1" width="1.2" height="14.2" fill="#11695a"/>
<rect x="366.98" y="364.7" width="1.2" height="17.6" fill="#11695a"/>
<rect x="369.84" y="363.7" width="1.2" height="18.6" fill="#11695a"/>
<rect x="372.70" y="362.7" width="1.2" height="19.6" fill="#11695a"/>
<rect x="375.56" y="365.6" width="1.2" height="16.7" fill="#9dcdc4"/>
<rect x="378.43" y="368.2" width="1.2" height="14.1" fill="#9dcdc4"/>
<rect x="381.29" y="374.0" width="1.2" height="8.3" fill="#9dcdc4"/>
<rect x="384.15" y="382.2" width="1.2" height="0.5" fill="#9dcdc4"/>
<rect x="387.02" y="382.3" width="1.2" height="7.1" fill="#b8232f"/>
<rect x="389.88" y="382.3" width="1.2" height="11.4" fill="#b8232f"/>
<rect x="392.74" y="382.3" width="1.2" height="13.6" fill="#b8232f"/>
<rect x="395.61" y="382.3" width="1.2" height="15.6" fill="#b8232f"/>
<rect x="398.47" y="382.3" width="1.2" height="19.5" fill="#b8232f"/>
<rect x="401.33" y="382.3" width="1.2" height="23.3" fill="#b8232f"/>
<rect x="404.19" y="382.3" width="1.2" height="27.8" fill="#b8232f"/>
<rect x="407.06" y="382.3" width="1.2" height="26.7" fill="#e6aab1"/>
<rect x="409.92" y="382.3" width="1.2" height="24.1" fill="#e6aab1"/>
<rect x="412.78" y="382.3" width="1.2" height="20.7" fill="#e6aab1"/>
<rect x="415.65" y="382.3" width="1.2" height="17.8" fill="#e6aab1"/>
<rect x="418.51" y="382.3" width="1.2" height="13.1" fill="#e6aab1"/>
<rect x="421.37" y="382.3" width="1.2" height="9.4" fill="#e6aab1"/>
<rect x="424.24" y="382.3" width="1.2" height="2.5" fill="#e6aab1"/>
<rect x="427.10" y="379.5" width="1.2" height="2.8" fill="#11695a"/>
<rect x="429.96" y="376.6" width="1.2" height="5.7" fill="#11695a"/>
<rect x="432.82" y="373.6" width="1.2" height="8.7" fill="#11695a"/>
<rect x="435.69" y="374.3" width="1.2" height="8.0" fill="#9dcdc4"/>
<rect x="438.55" y="376.6" width="1.2" height="5.7" fill="#9dcdc4"/>
<rect x="441.41" y="378.1" width="1.2" height="4.2" fill="#9dcdc4"/>
<path d="M0.0,320.4 C1.0,321.7 5.6,327.8 7.6,330.5 C9.6,333.2 13.3,338.0 15.3,340.7 C17.3,343.4 20.9,348.6 22.9,351.0 C24.9,353.4 28.5,357.4 30.5,358.5 C32.5,359.6 35.6,358.3 38.0,359.0 C40.4,359.7 46.0,362.5 48.5,363.7 C51.0,364.9 54.7,366.6 57.0,368.0 C59.3,369.4 63.4,372.3 65.4,373.9 C67.4,375.5 70.6,378.9 72.2,379.8 C73.8,380.7 75.7,380.8 77.3,380.7 C78.9,380.6 82.3,379.6 84.1,379.0 C85.9,378.4 88.8,377.2 90.8,376.4 C92.8,375.6 96.7,374.0 99.3,373.0 C101.9,372.0 107.9,369.5 110.0,368.8 C112.1,368.1 113.7,368.6 115.4,367.4 C117.1,366.2 121.0,362.3 123.0,359.8 C125.0,357.3 128.6,351.2 130.6,348.3 C132.6,345.4 136.3,340.3 138.3,338.2 C140.3,336.1 143.9,333.5 145.9,332.6 C147.9,331.7 151.5,331.8 153.5,331.8 C155.5,331.8 159.2,332.1 161.2,332.6 C163.2,333.1 166.8,334.6 168.8,335.6 C170.8,336.6 174.4,338.6 176.4,340.2 C178.4,341.8 182.1,345.2 184.0,347.5 C185.9,349.8 188.5,354.8 190.4,357.3 C192.3,359.8 196.3,364.4 198.5,366.3 C200.7,368.2 204.7,371.0 207.0,371.2 C209.3,371.4 213.1,368.8 215.4,368.0 C217.7,367.2 221.9,365.6 223.9,365.4 C225.9,365.2 228.9,365.6 230.7,366.5 C232.5,367.4 235.7,370.7 237.5,372.2 C239.3,373.7 242.4,376.0 244.2,377.5 C246.0,379.0 248.4,380.8 251.0,383.2 C253.6,385.6 260.7,392.9 263.5,395.6 C266.3,398.3 270.0,401.8 272.0,403.2 C274.0,404.6 276.9,405.8 278.7,406.1 C280.5,406.4 283.7,406.2 285.5,405.8 C287.3,405.4 290.5,404.2 292.3,403.2 C294.1,402.2 297.2,399.6 299.0,398.1 C300.8,396.6 304.0,393.9 305.8,392.2 C307.6,390.5 310.8,387.2 312.6,385.4 C314.4,383.6 317.5,380.1 319.4,378.6 C321.3,377.1 325.1,375.0 326.8,374.2 C328.5,373.4 330.3,372.4 331.9,372.5 C333.5,372.6 336.8,374.0 338.6,375.1 C340.4,376.2 343.6,379.8 345.4,381.0 C347.2,382.2 350.6,383.9 352.2,384.4 C353.8,384.9 355.7,385.3 357.3,384.4 C358.9,383.5 362.2,380.3 364.0,377.6 C365.8,374.9 369.0,367.2 370.8,364.0 C372.6,360.8 376.0,355.7 377.6,353.9 C379.2,352.1 380.8,349.6 382.7,350.2 C384.6,350.8 389.7,356.1 391.8,358.6 C393.9,361.1 396.8,365.6 398.6,368.8 C400.4,372.0 403.5,379.0 405.3,382.4 C407.1,385.8 410.3,391.4 412.1,394.2 C413.9,397.0 417.1,401.8 418.9,403.6 C420.7,405.4 423.9,407.7 425.7,407.8 C427.5,407.9 430.5,405.4 432.5,404.4 C434.5,403.4 439.8,400.8 440.9,400.2" fill="none" stroke="#c57b3a" stroke-width="1.05"/>
<path d="M0.0,329.0 C0.7,330.9 3.7,340.3 5.0,343.0 C6.3,345.7 8.5,347.9 10.0,349.6 C11.5,351.3 15.0,353.6 16.5,356.0 C18.0,358.4 20.1,365.8 21.6,367.4 C23.1,369.0 26.5,368.7 28.0,368.0 C29.5,367.3 31.8,363.3 33.0,362.0 C34.2,360.7 36.0,358.2 37.0,358.0 C38.0,357.8 39.6,359.3 40.7,360.3 C41.8,361.3 43.8,364.3 45.1,365.4 C46.4,366.5 48.8,367.8 50.2,368.8 C51.6,369.8 54.0,371.8 55.3,373.0 C56.6,374.2 59.1,376.7 60.3,378.1 C61.5,379.5 63.5,381.7 64.6,383.2 C65.7,384.7 67.6,388.9 68.8,389.2 C70.0,389.5 72.5,387.1 73.9,385.8 C75.3,384.5 77.6,381.1 79.0,379.8 C80.4,378.5 82.6,377.5 84.1,376.4 C85.6,375.3 88.7,371.9 90.0,371.4 C91.3,370.9 92.8,373.6 94.2,373.0 C95.6,372.4 98.4,368.0 100.2,367.1 C102.0,366.2 106.2,366.2 107.7,366.0 C109.2,365.8 110.3,365.9 111.5,365.6 C112.7,365.3 115.4,365.1 116.6,363.6 C117.8,362.1 119.4,357.8 120.4,354.7 C121.4,351.6 123.3,343.8 124.3,340.7 C125.3,337.6 126.8,333.8 128.0,331.8 C129.2,329.8 131.5,327.1 133.2,326.0 C134.9,324.9 139.1,323.6 140.8,323.7 C142.5,323.8 144.2,325.6 145.9,326.7 C147.6,327.8 151.5,330.3 153.5,331.8 C155.5,333.3 159.2,336.7 161.2,338.2 C163.2,339.7 166.8,342.0 168.8,343.3 C170.8,344.6 174.7,346.8 176.4,348.3 C178.1,349.8 180.1,352.2 181.5,354.7 C182.9,357.2 185.2,364.9 186.6,367.4 C188.0,369.9 190.3,372.3 191.7,373.8 C193.1,375.3 195.4,378.8 196.8,379.0 C198.2,379.2 200.5,376.3 201.9,375.6 C203.3,374.9 205.6,374.9 207.0,373.9 C208.4,372.9 210.8,369.7 212.3,367.8 C213.8,365.9 216.5,360.0 218.0,359.5 C219.5,359.0 222.2,362.4 223.9,363.7 C225.6,365.0 229.1,367.1 230.7,369.2 C232.3,371.3 234.5,377.2 235.8,379.3 C237.1,381.4 239.4,383.9 240.8,384.8 C242.2,385.7 244.6,385.0 246.0,385.8 C247.4,386.6 249.9,389.3 251.0,390.8 C252.1,392.3 253.1,395.8 254.4,397.2 C255.7,398.6 259.6,400.0 261.0,401.5 C262.4,403.0 263.9,406.8 265.2,408.5 C266.5,410.2 269.5,414.3 271.1,414.6 C272.7,414.9 275.3,411.9 277.0,410.8 C278.7,409.7 282.2,407.5 283.8,406.6 C285.4,405.7 287.3,405.5 288.9,404.4 C290.5,403.3 294.1,400.0 295.7,398.0 C297.3,396.0 299.5,392.2 300.8,389.7 C302.1,387.2 304.2,382.0 305.8,379.5 C307.4,377.0 310.7,372.7 312.6,371.0 C314.5,369.3 318.4,367.1 320.3,366.4 C322.2,365.7 325.3,365.6 326.8,366.1 C328.3,366.6 330.5,368.3 331.9,370.0 C333.3,371.7 335.7,376.2 337.0,378.5 C338.3,380.8 340.7,385.0 342.0,387.0 C343.3,389.0 345.6,393.4 347.1,393.7 C348.6,394.0 351.5,391.2 353.0,389.5 C354.5,387.8 356.8,383.7 358.1,381.0 C359.4,378.3 361.1,372.9 362.4,369.2 C363.7,365.5 366.2,356.7 367.5,353.0 C368.8,349.3 371.0,343.2 372.5,341.2 C374.0,339.2 377.1,338.0 378.5,338.3 C379.9,338.6 381.7,341.1 382.7,343.7 C383.7,346.3 385.2,354.9 386.1,358.0 C387.0,361.1 388.6,365.0 389.5,367.0 C390.4,369.0 391.6,370.9 392.6,373.0 C393.6,375.1 395.8,379.3 396.9,382.4 C398.0,385.5 400.0,392.2 401.1,396.0 C402.2,399.8 404.1,408.6 405.3,411.2 C406.5,413.8 408.8,414.5 410.4,415.4 C412.0,416.3 415.6,418.1 417.2,418.0 C418.8,417.9 420.9,416.4 422.3,414.6 C423.7,412.8 425.8,407.2 427.4,404.4 C429.0,401.6 432.4,395.0 434.2,393.9 C436.0,392.8 440.0,395.7 440.9,396.0" fill="none" stroke="#2742a2" stroke-width="1.05"/>
<text x="552.8" y="19.6" font-size="10.0" fill="#131722" stroke="#131722" stroke-width="0.35" textLength="40.8" lengthAdjust="spacingAndGlyphs">124,000.00</text>
<text x="552.8" y="52.5" font-size="10.0" fill="#131722" stroke="#131722" stroke-width="0.35" textLength="40.8" lengthAdjust="spacingAndGlyphs">120,000.00</text>
<text x="552.8" y="85.5" font-size="10.0" fill="#131722" stroke="#131722" stroke-width="0.35" textLength="40.8" lengthAdjust="spacingAndGlyphs">116,000.00</text>
<text x="552.8" y="118.4" font-size="10.0" fill="#131722" stroke="#131722" stroke-width="0.35" textLength="40.8" lengthAdjust="spacingAndGlyphs">112,000.00</text>
<text x="552.8" y="151.3" font-size="10.0" fill="#131722" stroke="#131722" stroke-width="0.35" textLength="40.8" lengthAdjust="spacingAndGlyphs">108,000.00</text>
<text x="552.8" y="184.3" font-size="10.0" fill="#131722" stroke="#131722" stroke-width="0.35" textLength="40.8" lengthAdjust="spacingAndGlyphs">104,000.00</text>
<text x="552.8" y="217.2" font-size="10.0" fill="#131722" stroke="#131722" stroke-width="0.35" textLength="40.8" lengthAdjust="spacingAndGlyphs">100,000.00</text>
<text x="552.8" y="250.2" font-size="10.0" fill="#131722" stroke="#131722" stroke-width="0.35" textLength="37.0" lengthAdjust="spacingAndGlyphs">96,000.00</text>
<text x="552.8" y="283.1" font-size="10.0" fill="#131722" stroke="#131722" stroke-width="0.35" textLength="37.0" lengthAdjust="spacingAndGlyphs">92,000.00</text>
<text x="551.6" y="318.0" font-size="10.0" fill="#131722" stroke="#131722" stroke-width="0.35" textLength="33.5" lengthAdjust="spacingAndGlyphs">4,000.00</text>
<text x="551.6" y="351.7" font-size="10.0" fill="#131722" stroke="#131722" stroke-width="0.35" textLength="33.5" lengthAdjust="spacingAndGlyphs">2,000.00</text>
<text x="551.0" y="418.9" font-size="10.0" fill="#131722" stroke="#131722" stroke-width="0.35" textLength="38.5" lengthAdjust="spacingAndGlyphs">−2,000.00</text>
<text x="551.0" y="452.6" font-size="10.0" fill="#131722" stroke="#131722" stroke-width="0.35" textLength="38.5" lengthAdjust="spacingAndGlyphs">−4,000.00</text>
<rect x="546" y="124" width="52" height="22" fill="#089981"/>
<text x="552.6" y="132.0" font-size="9.4" font-weight="bold" fill="#fff" stroke="#fff" stroke-width="0.1" textLength="40.6" lengthAdjust="spacingAndGlyphs">110,317.35</text>
<text x="552.6" y="142.0" font-size="9.4" font-weight="bold" fill="#fff" stroke="#fff" stroke-width="0.1" textLength="32.2" lengthAdjust="spacingAndGlyphs">18:02:46</text>
<text x="552.2" y="385.2" font-size="10.6" fill="#131722" stroke="#131722" stroke-width="0.3" textLength="16" lengthAdjust="spacingAndGlyphs">0.00</text>
<rect x="546" y="372.1" width="34.7" height="11.2" fill="#b2dfdb"/>
<text x="551.8" y="380.9" font-size="9.4" font-weight="bold" fill="#131722" stroke="#131722" stroke-width="0.1" textLength="25.5" lengthAdjust="spacingAndGlyphs">242.93</text>
<rect x="546" y="389.9" width="39.8" height="11.7" fill="#2458e8"/>
<text x="552.2" y="399.2" font-size="9.4" font-weight="bold" fill="#fff" stroke="#fff" stroke-width="0.1" textLength="29.5" lengthAdjust="spacingAndGlyphs">-868.91</text>
<rect x="546" y="402" width="47.4" height="11.3" fill="#f5600c"/>
<text x="552.2" y="410.9" font-size="9.4" font-weight="bold" fill="#fff" stroke="#fff" stroke-width="0.1" textLength="38.2" lengthAdjust="spacingAndGlyphs">-1,111.85</text>
<text x="2.45" y="466.9" font-size="10" fill="#131722" stroke="#131722" stroke-width="0.3" textLength="4.70" lengthAdjust="spacingAndGlyphs">6</text>
<path transform="translate(7.25,459.8) scale(1.05)" d="M1.7,0.55H6.3M6.3,0.55V7.0Q6.3,7.45 5.8,7.45H4.6M1.7,0.55V4.2Q1.7,6.4 0.4,7.6M1.7,2.7H6.3M1.7,4.8H6.3" fill="none" stroke="#131722" stroke-width="1.2"/>
<text x="88.45" y="466.9" font-size="10" fill="#131722" stroke="#131722" stroke-width="0.3" textLength="4.70" lengthAdjust="spacingAndGlyphs">7</text>
<path transform="translate(93.25,459.8) scale(1.05)" d="M1.7,0.55H6.3M6.3,0.55V7.0Q6.3,7.45 5.8,7.45H4.6M1.7,0.55V4.2Q1.7,6.4 0.4,7.6M1.7,2.7H6.3M1.7,4.8H6.3" fill="none" stroke="#131722" stroke-width="1.2"/>
<text x="177.45" y="466.9" font-size="10" fill="#131722" stroke="#131722" stroke-width="0.3" textLength="4.70" lengthAdjust="spacingAndGlyphs">8</text>
<path transform="translate(182.25,459.8) scale(1.05)" d="M1.7,0.55H6.3M6.3,0.55V7.0Q6.3,7.45 5.8,7.45H4.6M1.7,0.55V4.2Q1.7,6.4 0.4,7.6M1.7,2.7H6.3M1.7,4.8H6.3" fill="none" stroke="#131722" stroke-width="1.2"/>
<text x="265.45" y="466.9" font-size="10" fill="#131722" stroke="#131722" stroke-width="0.3" textLength="4.70" lengthAdjust="spacingAndGlyphs">9</text>
<path transform="translate(270.25,459.8) scale(1.05)" d="M1.7,0.55H6.3M6.3,0.55V7.0Q6.3,7.45 5.8,7.45H4.6M1.7,0.55V4.2Q1.7,6.4 0.4,7.6M1.7,2.7H6.3M1.7,4.8H6.3" fill="none" stroke="#131722" stroke-width="1.2"/>
<text x="349.45" y="466.9" font-size="10" fill="#131722" stroke="#131722" stroke-width="0.3" textLength="8.70" lengthAdjust="spacingAndGlyphs">10</text>
<path transform="translate(358.25,459.8) scale(1.05)" d="M1.7,0.55H6.3M6.3,0.55V7.0Q6.3,7.45 5.8,7.45H4.6M1.7,0.55V4.2Q1.7,6.4 0.4,7.6M1.7,2.7H6.3M1.7,4.8H6.3" fill="none" stroke="#131722" stroke-width="1.2"/>
<text x="438.45" y="466.9" font-size="10" fill="#131722" stroke="#131722" stroke-width="0.3" textLength="8.70" lengthAdjust="spacingAndGlyphs">11</text>
<path transform="translate(447.25,459.8) scale(1.05)" d="M1.7,0.55H6.3M6.3,0.55V7.0Q6.3,7.45 5.8,7.45H4.6M1.7,0.55V4.2Q1.7,6.4 0.4,7.6M1.7,2.7H6.3M1.7,4.8H6.3" fill="none" stroke="#131722" stroke-width="1.2"/>
<text x="524.45" y="466.9" font-size="10" fill="#131722" stroke="#131722" stroke-width="0.3" textLength="8.70" lengthAdjust="spacingAndGlyphs">12</text>
<path transform="translate(533.25,459.8) scale(1.05)" d="M1.7,0.55H6.3M6.3,0.55V7.0Q6.3,7.45 5.8,7.45H4.6M1.7,0.55V4.2Q1.7,6.4 0.4,7.6M1.7,2.7H6.3M1.7,4.8H6.3" fill="none" stroke="#131722" stroke-width="1.2"/>
<path d="M568.6,464.5 L571.2,460.4 L576.6,460.4 L579.2,464.5 L576.6,468.6 L571.2,468.6 Z" fill="none" stroke="#131722" stroke-width="1.3" stroke-linejoin="round"/>
<circle cx="573.9" cy="464.5" r="1.7" fill="none" stroke="#131722" stroke-width="1.2"/>
</svg></body></html>
